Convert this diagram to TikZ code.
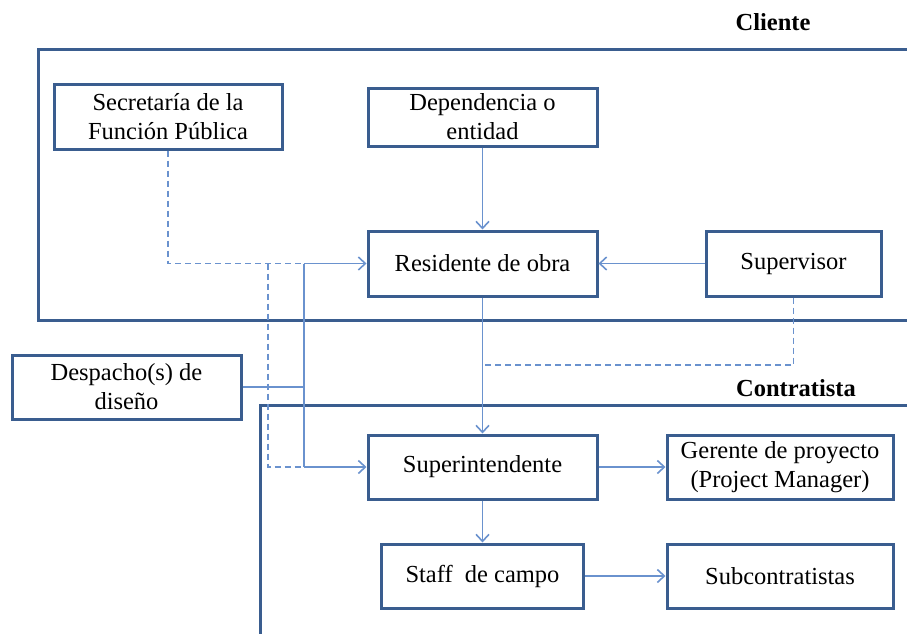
\documentclass[tikz,border=0pt]{standalone}
\usepackage{fontspec}
\setmainfont{Liberation Serif}
\usetikzlibrary{arrows.meta}
\definecolor{boxblue}{HTML}{3A5D8F}
\definecolor{linkblue}{HTML}{6A92CE}

\begin{document}
\begin{tikzpicture}[x=1pt, y=-1pt,
    box/.style={draw=boxblue, line width=3pt, align=center, inner sep=0pt,
        font=\fontsize{24.5}{29}\selectfont},
    frame/.style={draw=boxblue, line width=3pt},
    link/.style={draw=linkblue, line width=1.6pt},
    arr/.style={link, -{Straight Barb[length=7pt, width=13pt]}},
    dlink/.style={link, dash pattern=on 6pt off 4pt},
    title/.style={font=\fontsize{24.5}{28}\selectfont\bfseries}]
    \useasboundingbox (0,0) rectangle (907,634);

    \draw[frame] (907,50) -- (38,50) -- (38,320) -- (907,320);
    \draw[frame] (907,405) -- (260,405) -- (260,634);
    \draw (773,22) node[title] (cliente) {Cliente};
    \draw (796,388) node[title] (contratista) {Contratista};

    \draw (168,116.5) node[box, minimum width=228, minimum height=65] (sec) {Secretaría de la\\Función Pública};
    \draw (482.5,117) node[box, minimum width=229, minimum height=58] (dep) {Dependencia o\\entidad};
    \draw (482.5,263.5) node[box, minimum width=229, minimum height=65] (res) {Residente de obra};
    \draw (793.5,263.5) node[box, minimum width=175, minimum height=65] (sup) {Supervisor};
    \draw (126.5,387) node[box, minimum width=229, minimum height=64] (des) {Despacho(s) de\\diseño};
    \draw (482.5,467) node[box, minimum width=229, minimum height=64] (supi) {Superintendente};
    \draw (780,467) node[box, minimum width=226, minimum height=64] (ger) {Gerente de proyecto\\(Project Manager)};
    \draw (482.5,576) node[box, minimum width=202, minimum height=64] (staff) {Staff~ de campo};
    \draw (780,576) node[box, minimum width=226, minimum height=64] (sub) {Subcontratistas};

    \coordinate (bustop) at (304,263.5);
    \coordinate (busbot) at (304,467);
    \coordinate (dashtop) at (268,263.5);
    \coordinate (dashbot) at (268,467);

    \draw[dlink] (sec.south) |- (bustop);
    \draw[dlink] (dashtop) -- (dashbot) -- (busbot);
    \draw[dlink] (sup.south) |- (res.south |- 0,365);

    \draw[link] (des.east) -- (des.east -| bustop);
    \draw[link] (bustop) -- (busbot);
    \draw[arr] (bustop) -- (res.west);
    \draw[arr] (busbot) -- (supi.west);

    \draw[arr] (dep) -- (res);
    \draw[arr] (sup) -- (res);
    \draw[arr] (res) -- (supi);
    \draw[arr] (supi) -- (ger);
    \draw[arr] (supi) -- (staff);
    \draw[arr] (staff) -- (sub);
\end{tikzpicture}
\end{document}
